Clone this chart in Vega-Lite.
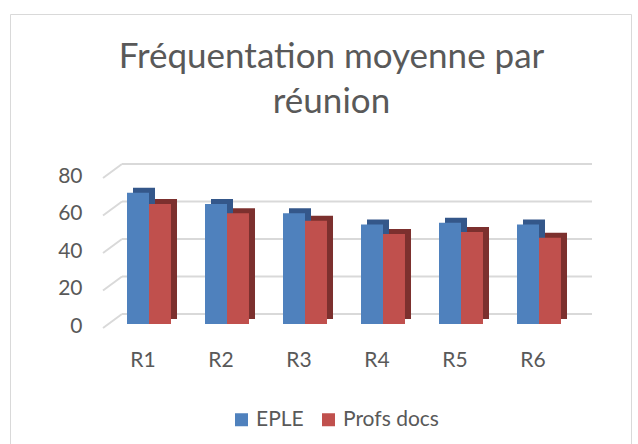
{
  "$schema": "https://vega.github.io/schema/vega-lite/v6.json",
  "width": 621,
  "height": 430,
  "autosize": {"type": "none"},
  "padding": {"left": 10, "top": 14, "right": 7, "bottom": 0},
  "background": "white",
  "config": {"view": {"stroke": "#d9d9d9", "strokeWidth": 1}, "font": "Lato"},
  "title": {
    "text": ["Fréquentation moyenne par", "réunion"],
    "fontSize": 35,
    "font": "Lato",
    "fontWeight": "normal",
    "color": "#595959",
    "anchor": "middle",
    "frame": "group",
    "offset": -134,
    "baseline": "alphabetic",
    "lineHeight": 45,
    "dx": 11
  },
  "datasets": {
    "bars": [
      {"r": "R1", "series": "EPLE", "value": 70},
      {"r": "R1", "series": "Profs docs", "value": 64},
      {"r": "R2", "series": "EPLE", "value": 64},
      {"r": "R2", "series": "Profs docs", "value": 59},
      {"r": "R3", "series": "EPLE", "value": 59},
      {"r": "R3", "series": "Profs docs", "value": 55},
      {"r": "R4", "series": "EPLE", "value": 53},
      {"r": "R4", "series": "Profs docs", "value": 48},
      {"r": "R5", "series": "EPLE", "value": 54},
      {"r": "R5", "series": "Profs docs", "value": 49},
      {"r": "R6", "series": "EPLE", "value": 53},
      {"r": "R6", "series": "Profs docs", "value": 46}
    ],
    "ticks": [{"v": 0}, {"v": 20}, {"v": 40}, {"v": 60}, {"v": 80}]
  },
  "resolve": {"scale": {"xOffset": "independent"}},
  "layer": [
    {
      "data": {"name": "ticks"},
      "mark": {"type": "rule", "color": "#d9d9d9", "strokeWidth": 2, "xOffset": -5, "x2Offset": 53, "yOffset": -10},
      "encoding": {
        "x": {"datum": "R1", "type": "nominal", "bandPosition": 0, "axis": {"title": null, "domain": false, "ticks": false, "tickSize": 0, "offset": -120, "labelPadding": 25, "labelFontSize": 21, "labelColor": "#595959", "labelFont": "Lato", "labelOffset": -6, "labelAngle": 0}},
        "x2": {"datum": "R6"},
        "y": {"field": "v", "type": "quantitative", "axis": {"values": [0, 20, 40, 60, 80], "title": null, "domain": false, "ticks": false, "tickSize": 0, "grid": false, "offset": -72, "labelPadding": 0, "labelFontSize": 21, "labelColor": "#595959", "labelFont": "Lato", "labelOffset": 2.5}}
      }
    },
    {
      "data": {"name": "ticks"},
      "mark": {"type": "rule", "color": "#d9d9d9", "strokeWidth": 2, "xOffset": -24, "x2Offset": -27, "yOffset": 4, "y2Offset": -10},
      "encoding": {
        "x": {"datum": "R1", "type": "nominal", "bandPosition": 0},
        "x2": {"datum": "R1"},
        "y": {"field": "v", "type": "quantitative"},
        "y2": {"field": "v"}
      }
    },
    {
      "data": {"name": "bars"},
      "mark": {"type": "bar", "yOffset": -5, "y2Offset": -5},
      "encoding": {
        "x": {"field": "r", "type": "nominal"},
        "xOffset": {"field": "series", "type": "nominal", "sort": ["EPLE", "Profs docs"], "scale": {"range": [6, 50]}},
        "y": {"field": "value", "type": "quantitative"},
        "y2": {"datum": 0},
        "color": {"condition": {"test": "datum.series === 'EPLE'", "value": "#34578a"}, "value": "#7c302e"}
      }
    },
    {
      "data": {"name": "bars"},
      "mark": {"type": "bar"},
      "encoding": {
        "x": {
          "field": "r",
          "type": "nominal",
          "scale": {"range": [100, 568], "paddingInner": 0.436, "paddingOuter": 0.218}
        },
        "xOffset": {"field": "series", "type": "nominal", "sort": ["EPLE", "Profs docs"]},
        "y": {
          "field": "value",
          "type": "quantitative",
          "scale": {"domain": [-64, 165.333], "nice": false, "zero": false}
        },
        "y2": {"datum": 0},
        "color": {
          "field": "series",
          "type": "nominal",
          "scale": {"domain": ["EPLE", "Profs docs"], "range": ["#4f81bd", "#c0504d"]},
          "legend": {"orient": "none", "legendX": 221, "legendY": 395, "direction": "horizontal", "title": null, "symbolType": "square", "symbolSize": 169, "symbolStrokeWidth": 0, "labelFontSize": 21, "labelColor": "#595959", "labelFont": "Lato", "columnPadding": 14, "labelOffset": 4, "padding": 0}
        }
      }
    }
  ]
}
